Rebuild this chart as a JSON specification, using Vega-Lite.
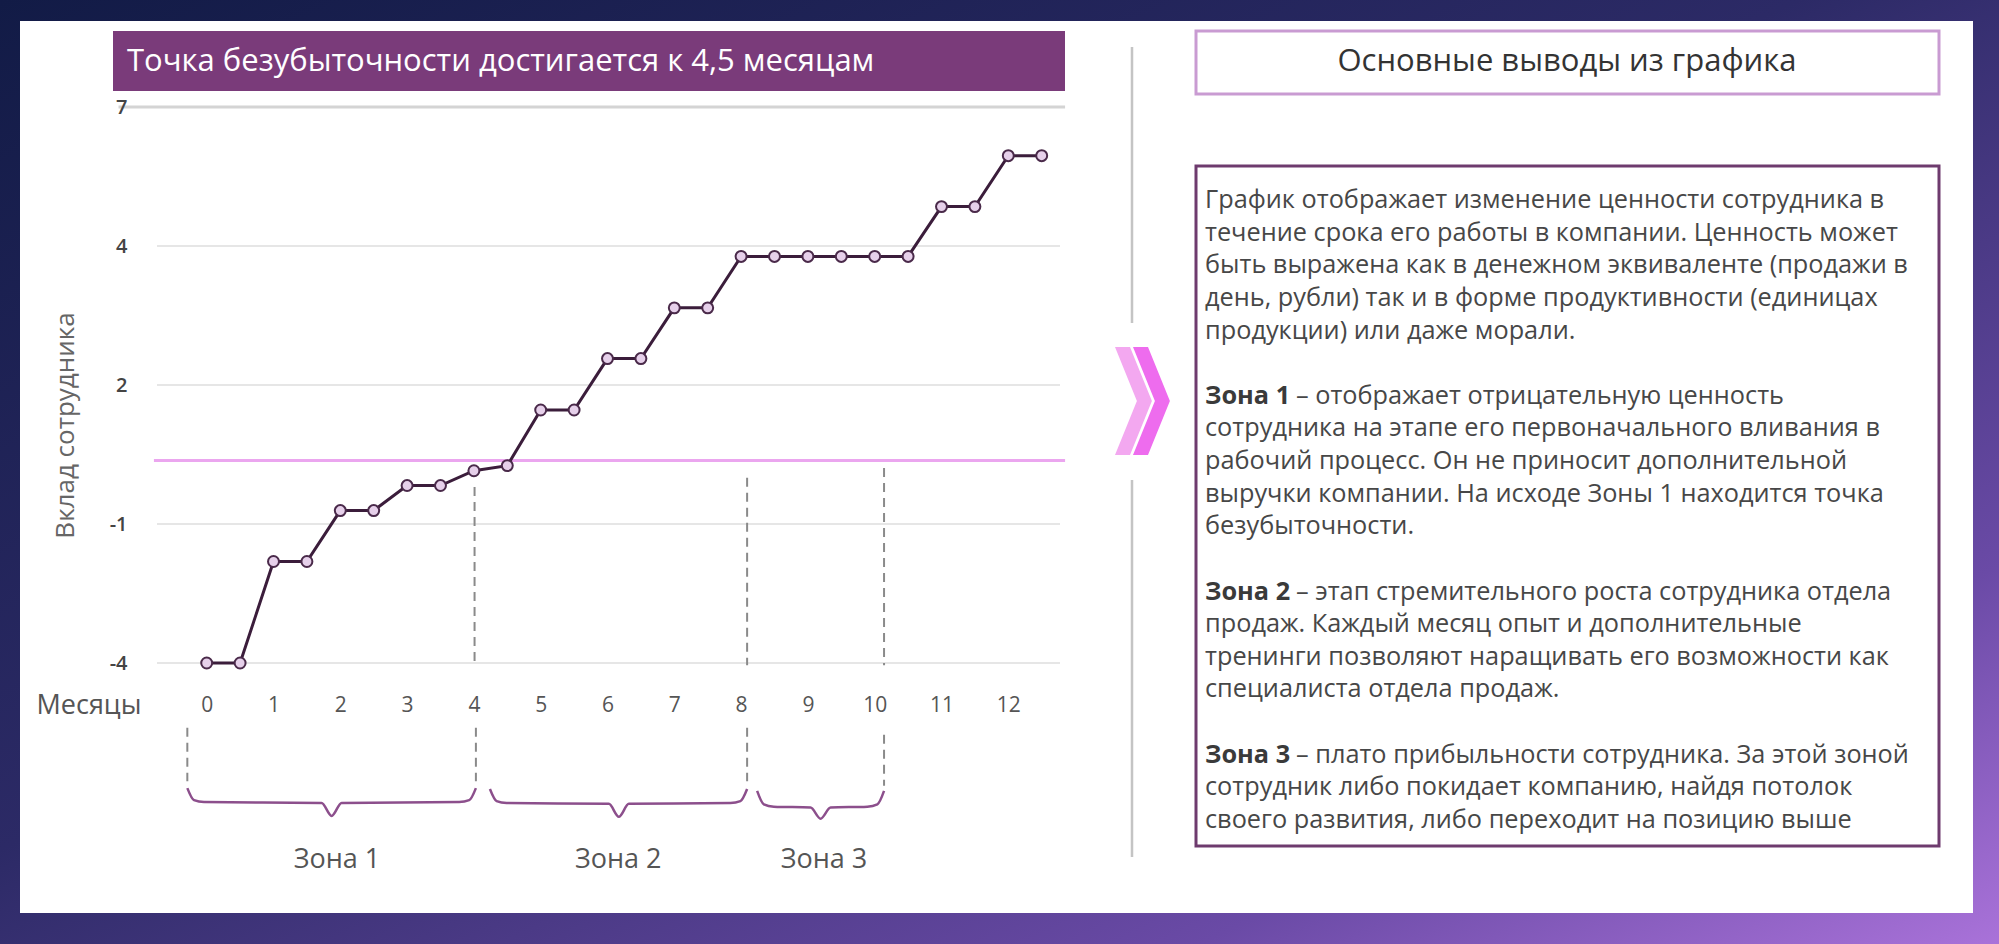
{
  "$schema": "https://vega.github.io/schema/vega-lite/v6.json",
  "autosize": {"type": "none"},
  "padding": {"left": 157, "top": 107, "right": 939, "bottom": 281},
  "width": 903,
  "height": 556,
  "background": "#1c2250",
  "config": {"font": "Open Sans", "view": {"stroke": null}},
  "layer": [
    {
      "data": {"values": [{}]},
      "layer": [
        {
          "mark": {"type": "rect", "fill": {"gradient": "linear", "x1": 0, "y1": 0, "x2": 1, "y2": 1, "stops": [{"offset": 0, "color": "#121b46"}, {"offset": 0.45, "color": "#2c2a66"}, {"offset": 0.8, "color": "#6a4aa6"}, {"offset": 1, "color": "#a972d9"}]}},
          "encoding": {"x": {"value": -157}, "x2": {"value": 1842}, "y": {"value": -107}, "y2": {"value": 837}}
        },
        {
          "mark": {"type": "rect", "fill": "#ffffff"},
          "encoding": {"x": {"value": -137}, "x2": {"value": 1816}, "y": {"value": -86}, "y2": {"value": 806}}
        },
        {
          "mark": {"type": "rect", "fill": "#7a3b7a"},
          "encoding": {"x": {"value": -44}, "x2": {"value": 908}, "y": {"value": -76}, "y2": {"value": -16}}
        },
        {
          "mark": {"type": "text", "text": "Точка безубыточности достигается к 4,5 месяцам", "color": "#ffffff", "fontSize": 31, "align": "left", "baseline": "middle"},
          "encoding": {"x": {"value": -30}, "y": {"value": -45}}
        },
        {
          "mark": {"type": "rule", "color": "#c4c4c4", "strokeWidth": 2.5},
          "encoding": {"x": {"value": 975}, "y": {"value": -60}, "y2": {"value": 216}}
        },
        {
          "mark": {"type": "rule", "color": "#c4c4c4", "strokeWidth": 2.5},
          "encoding": {"x": {"value": 975}, "y": {"value": 373}, "y2": {"value": 750}}
        },
        {
          "mark": {"type": "point", "shape": "M-0.9,-1.8L-0.4,-1.8L0.33,0L-0.4,1.8L-0.9,1.8L-0.17,0Z", "filled": true, "fill": "#f3a8f0", "opacity": 1, "strokeWidth": 0, "size": 3600},
          "encoding": {"x": {"value": 985}, "y": {"value": 294}}
        },
        {
          "mark": {"type": "point", "shape": "M-0.9,-1.8L-0.4,-1.8L0.33,0L-0.4,1.8L-0.9,1.8L-0.17,0Z", "filled": true, "fill": "#ee6cee", "opacity": 1, "strokeWidth": 0, "size": 3600},
          "encoding": {"x": {"value": 1003}, "y": {"value": 294}}
        },
        {
          "mark": {"type": "rect", "fill": "#ffffff", "stroke": "#c99bd2", "strokeWidth": 3},
          "encoding": {"x": {"value": 1039}, "x2": {"value": 1782}, "y": {"value": -76}, "y2": {"value": -13}}
        },
        {
          "mark": {"type": "text", "text": "Основные выводы из графика", "color": "#333333", "fontSize": 31, "align": "center", "baseline": "middle"},
          "encoding": {"x": {"value": 1410}, "y": {"value": -45}}
        },
        {
          "mark": {"type": "rect", "fill": "#ffffff", "stroke": "#6e3b6e", "strokeWidth": 3},
          "encoding": {"x": {"value": 1039}, "x2": {"value": 1782}, "y": {"value": 59}, "y2": {"value": 739}}
        }
      ]
    },
    {
      "layer": [
        {
          "data": {"values": [{"g": -4}, {"g": -1}, {"g": 2}, {"g": 4}]},
          "mark": {"type": "rule", "color": "#e6e6e6", "strokeWidth": 2},
          "encoding": {
            "y": {"field": "g", "type": "quantitative", "scale": {"domain": [-4, -1, 2, 4, 7], "range": [556, 417, 278, 139, 0], "nice": false, "zero": false}}
          }
        },
        {
          "data": {"values": [{}]},
          "mark": {"type": "rule", "color": "#d4d4d4", "strokeWidth": 3},
          "encoding": {
            "x": {"datum": -1.32, "type": "quantitative", "scale": {"domain": [-0.744, 12.774], "nice": false, "zero": false}},
            "x2": {"datum": 12.85},
            "y": {"datum": 7, "type": "quantitative", "scale": {"domain": [-4, -1, 2, 4, 7], "range": [556, 417, 278, 139, 0], "nice": false, "zero": false}}
          }
        },
        {
          "data": {"values": [{}]},
          "mark": {"type": "rule", "color": "#eba6ef", "strokeWidth": 3},
          "encoding": {
            "x": {"datum": -0.79, "type": "quantitative", "scale": {"domain": [-0.744, 12.774], "nice": false, "zero": false}},
            "x2": {"datum": 12.85},
            "y": {"datum": 0.37, "type": "quantitative", "scale": {"domain": [-4, -1, 2, 4, 7], "range": [556, 417, 278, 139, 0], "nice": false, "zero": false}}
          }
        },
        {
          "data": {"values": [{"m": 4.01, "top": -0.2, "bottom": -4.05}, {"m": 8.09, "top": 0.0, "bottom": -4.05}, {"m": 10.14, "top": 0.21, "bottom": -4.05}, {"m": -0.29, "top": -5.4, "bottom": -6.55}, {"m": 4.03, "top": -5.4, "bottom": -6.55}, {"m": 8.09, "top": -5.4, "bottom": -6.55}, {"m": 10.14, "top": -5.55, "bottom": -6.65}]},
          "mark": {"type": "rule", "color": "#8a8a8a", "strokeWidth": 2, "strokeDash": [9, 6]},
          "encoding": {
            "x": {"field": "m", "type": "quantitative", "scale": {"domain": [-0.744, 12.774], "nice": false, "zero": false}},
            "y": {"field": "top", "type": "quantitative", "scale": {"domain": [-4, -1, 2, 4, 7], "range": [556, 417, 278, 139, 0], "nice": false, "zero": false}},
            "y2": {"field": "bottom"}
          }
        },
        {
          "data": {"values": [
            {"z": 1, "o": 0, "m": -0.29, "b": -6.7}, {"z": 1, "o": 1, "m": -0.19, "b": -6.96}, {"z": 1, "o": 2, "m": -0.04, "b": -7.0}, {"z": 1, "o": 3, "m": 1.72, "b": -7.02}, {"z": 1, "o": 4, "m": 1.87, "b": -7.3}, {"z": 1, "o": 5, "m": 2.02, "b": -7.02}, {"z": 1, "o": 6, "m": 3.78, "b": -7.0}, {"z": 1, "o": 7, "m": 3.93, "b": -6.96}, {"z": 1, "o": 8, "m": 4.03, "b": -6.7},
            {"z": 2, "o": 0, "m": 4.24, "b": -6.72}, {"z": 2, "o": 1, "m": 4.34, "b": -6.98}, {"z": 2, "o": 2, "m": 4.49, "b": -7.02}, {"z": 2, "o": 3, "m": 6.02, "b": -7.04}, {"z": 2, "o": 4, "m": 6.17, "b": -7.32}, {"z": 2, "o": 5, "m": 6.32, "b": -7.04}, {"z": 2, "o": 6, "m": 7.84, "b": -7.02}, {"z": 2, "o": 7, "m": 7.99, "b": -6.98}, {"z": 2, "o": 8, "m": 8.09, "b": -6.72},
            {"z": 3, "o": 0, "m": 8.24, "b": -6.76}, {"z": 3, "o": 1, "m": 8.34, "b": -7.05}, {"z": 3, "o": 2, "m": 8.49, "b": -7.1}, {"z": 3, "o": 3, "m": 9.04, "b": -7.12}, {"z": 3, "o": 4, "m": 9.19, "b": -7.36}, {"z": 3, "o": 5, "m": 9.34, "b": -7.12}, {"z": 3, "o": 6, "m": 9.89, "b": -7.1}, {"z": 3, "o": 7, "m": 10.04, "b": -7.05}, {"z": 3, "o": 8, "m": 10.14, "b": -6.76}
          ]},
          "mark": {"type": "line", "color": "#8c4f8c", "strokeWidth": 2.5, "interpolate": "monotone"},
          "encoding": {
            "x": {"field": "m", "type": "quantitative", "scale": {"domain": [-0.744, 12.774], "nice": false, "zero": false}},
            "y": {"field": "b", "type": "quantitative", "scale": {"domain": [-4, -1, 2, 4, 7], "range": [556, 417, 278, 139, 0], "nice": false, "zero": false}},
            "detail": {"field": "z"},
            "order": {"field": "o"}
          }
        },
        {
          "data": {"values": [{"label": "Зона 1", "m": 1.95, "b": -8.25}, {"label": "Зона 2", "m": 6.16, "b": -8.25}, {"label": "Зона 3", "m": 9.24, "b": -8.25}]},
          "mark": {"type": "text", "fontSize": 27, "color": "#555555", "align": "center", "baseline": "middle"},
          "encoding": {
            "x": {"field": "m", "type": "quantitative", "scale": {"domain": [-0.744, 12.774], "nice": false, "zero": false}},
            "y": {"field": "b", "type": "quantitative", "scale": {"domain": [-4, -1, 2, 4, 7], "range": [556, 417, 278, 139, 0], "nice": false, "zero": false}},
            "text": {"field": "label"}
          }
        },
        {
          "data": {"name": "series", "values": [
            {"m": 0, "v": -4}, {"m": 0.5, "v": -4}, {"m": 1, "v": -1.81}, {"m": 1.5, "v": -1.81},
            {"m": 2, "v": -0.71}, {"m": 2.5, "v": -0.71}, {"m": 3, "v": -0.17}, {"m": 3.5, "v": -0.17},
            {"m": 4, "v": 0.15}, {"m": 4.5, "v": 0.26}, {"m": 5, "v": 1.46}, {"m": 5.5, "v": 1.46},
            {"m": 6, "v": 2.38}, {"m": 6.5, "v": 2.38}, {"m": 7, "v": 3.11}, {"m": 7.5, "v": 3.11},
            {"m": 8, "v": 3.85}, {"m": 8.5, "v": 3.85}, {"m": 9, "v": 3.85}, {"m": 9.5, "v": 3.85},
            {"m": 10, "v": 3.85}, {"m": 10.5, "v": 3.85}, {"m": 11, "v": 4.85}, {"m": 11.5, "v": 4.85},
            {"m": 12, "v": 5.95}, {"m": 12.5, "v": 5.95}
          ]},
          "layer": [
            {
              "mark": {"type": "line", "color": "#3b1d3b", "strokeWidth": 3},
              "encoding": {
                "x": {"field": "m", "type": "quantitative", "scale": {"domain": [-0.744, 12.774], "nice": false, "zero": false},
                  "axis": {"values": [0, 1, 2, 3, 4, 5, 6, 7, 8, 9, 10, 11, 12], "format": "d", "grid": false, "domain": false, "ticks": false, "tickSize": 0, "labelPadding": 42, "labelBaseline": "middle", "labelFontSize": 21, "labelColor": "#555555", "labelFont": "Open Sans", "title": "Месяцы", "titleFont": "Open Sans", "titleFontSize": 27, "titleFontWeight": "normal", "titleColor": "#555555", "titleAlign": "left", "titleBaseline": "middle", "titleX": -121, "titleY": 42, "zindex": 1}},
                "y": {"field": "v", "type": "quantitative", "scale": {"domain": [-4, -1, 2, 4, 7], "range": [556, 417, 278, 139, 0], "nice": false, "zero": false},
                  "axis": {"values": [-4, -1, 2, 4, 7], "labelExpr": "'' + datum.value", "grid": false, "domain": false, "ticks": false, "tickSize": 0, "labelPadding": 30, "labelFontSize": 20, "labelFontWeight": 600, "labelColor": "#444444", "labelFont": "Open Sans", "title": "Вклад сотрудника", "titleFont": "Open Sans", "titleFontSize": 26, "titleFontWeight": "normal", "titleColor": "#666666", "titleAngle": 270, "titleAlign": "center", "titleBaseline": "middle", "titleX": -92, "titleY": 318, "zindex": 1}}
              }
            },
            {
              "mark": {"type": "point", "shape": "circle", "filled": true, "fill": "#e6d0ea", "stroke": "#4a2a4a", "strokeWidth": 2, "opacity": 1, "size": 120},
              "encoding": {
                "x": {"field": "m", "type": "quantitative", "scale": {"domain": [-0.744, 12.774], "nice": false, "zero": false}},
                "y": {"field": "v", "type": "quantitative", "scale": {"domain": [-4, -1, 2, 4, 7], "range": [556, 417, 278, 139, 0], "nice": false, "zero": false}}
              }
            }
          ]
        }
      ]
    },
    {
      "data": {"values": [
        {"ln": 0, "t": "График отображает изменение ценности сотрудника в", "k": "r"},
        {"ln": 1, "t": "течение срока его работы в компании. Ценность может", "k": "r"},
        {"ln": 2, "t": "быть выражена как в денежном эквиваленте (продажи в", "k": "r"},
        {"ln": 3, "t": "день, рубли) так и в форме продуктивности (единицах", "k": "r"},
        {"ln": 4, "t": "продукции) или даже морали.", "k": "r"},
        {"ln": 6, "t": "Зона 1", "k": "b"},
        {"ln": 6, "t": "– отображает отрицательную ценность", "k": "i"},
        {"ln": 7, "t": "сотрудника на этапе его первоначального вливания в", "k": "r"},
        {"ln": 8, "t": "рабочий процесс. Он не приносит дополнительной", "k": "r"},
        {"ln": 9, "t": "выручки компании. На исходе Зоны 1 находится точка", "k": "r"},
        {"ln": 10, "t": "безубыточности.", "k": "r"},
        {"ln": 12, "t": "Зона 2", "k": "b"},
        {"ln": 12, "t": "– этап стремительного роста сотрудника отдела", "k": "i"},
        {"ln": 13, "t": "продаж. Каждый месяц опыт и дополнительные", "k": "r"},
        {"ln": 14, "t": "тренинги позволяют наращивать его возможности как", "k": "r"},
        {"ln": 15, "t": "специалиста отдела продаж.", "k": "r"},
        {"ln": 17, "t": "Зона 3", "k": "b"},
        {"ln": 17, "t": "– плато прибыльности сотрудника. За этой зоной", "k": "i"},
        {"ln": 18, "t": "сотрудник либо покидает компанию, найдя потолок", "k": "r"},
        {"ln": 19, "t": "своего развития, либо переходит на позицию выше", "k": "r"}
      ]},
      "layer": [
        {
          "transform": [{"filter": "datum.k === 'r'"}],
          "mark": {"type": "text", "fontSize": 25.3, "color": "#474747", "align": "left", "baseline": "middle"},
          "encoding": {
            "x": {"value": 1048},
            "y": {"field": "ln", "type": "quantitative", "scale": {"domain": [0, 19], "range": [93, 713], "nice": false, "zero": false}, "axis": null},
            "text": {"field": "t"}
          }
        },
        {
          "transform": [{"filter": "datum.k === 'i'"}],
          "mark": {"type": "text", "fontSize": 25.3, "color": "#474747", "align": "left", "baseline": "middle", "dx": 91},
          "encoding": {
            "x": {"value": 1048},
            "y": {"field": "ln", "type": "quantitative", "scale": {"domain": [0, 19], "range": [93, 713], "nice": false, "zero": false}, "axis": null},
            "text": {"field": "t"}
          }
        },
        {
          "transform": [{"filter": "datum.k === 'b'"}],
          "mark": {"type": "text", "fontSize": 25.3, "fontWeight": "bold", "color": "#3a3a3a", "align": "left", "baseline": "middle"},
          "encoding": {
            "x": {"value": 1048},
            "y": {"field": "ln", "type": "quantitative", "scale": {"domain": [0, 19], "range": [93, 713], "nice": false, "zero": false}, "axis": null},
            "text": {"field": "t"}
          }
        }
      ]
    }
  ],
  "resolve": {"scale": {"y": "independent", "x": "independent"}}
}
